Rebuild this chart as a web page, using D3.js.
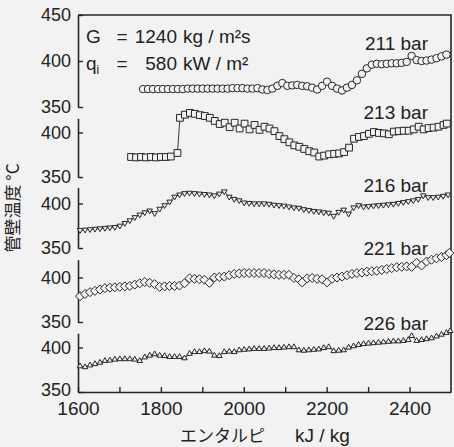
<!DOCTYPE html>
<html><head><meta charset="utf-8">
<script src="https://cdn.jsdelivr.net/npm/d3@7"></script>
<style>
html,body{margin:0;padding:0;background:#f2f2f2;}
svg{display:block;}
text{font-family:"Liberation Sans",Arial,sans-serif;fill:#222;}
.jp{font-family:"Noto Sans CJK JP",sans-serif;}
</style></head><body>
<svg id="chart" width="454" height="447"></svg>
<script>
// ---------- data ----------
const seriesLabels = ["211 bar","213 bar","216 bar","221 bar","226 bar"];
const xTickValues = [1600,1700,1800,1900,2000,2100,2200,2300,2400];
const xTickLabels = ["1600","","1800","","2000","","2200","","2400"];
const yTickValuesTop = [350,400,450];
const yTickValues = [350,400];
const axisTops = [450,416,418,420,416];

const s211 = [[1757,369.5],[1769,369.5],[1781,369.5],[1793,369.5],[1805,369.5],[1817,369.5],[1829,369.5],[1841,369.5],[1853,369.5],[1865,370],[1877,370],[1889,370],[1901,370],[1913,370],[1925,370],[1937,370],[1949,370],[1961,370],[1973,370.5],[1985,370.5],[1997,370.5],[2009,370],[2021,370],[2033,370.5],[2045,369],[2057,368.5],[2069,370],[2081,373],[2093,376],[2105,373],[2117,373.5],[2129,374],[2141,373],[2153,372.5],[2165,371],[2177,369],[2189,373],[2201,377.5],[2213,373],[2225,370],[2237,368],[2249,371],[2261,374],[2273,379],[2285,386],[2297,392],[2309,396],[2321,397],[2333,396.5],[2345,397],[2357,397.5],[2369,397.5],[2381,398],[2393,399],[2405,405.5],[2417,401],[2429,400],[2441,400.5],[2453,401.5],[2465,403],[2477,405],[2489,407]];

const s213 = [[1728,372.5],[1740,372],[1752,372.5],[1764,372],[1776,372.5],[1788,372],[1800,372.5],[1812,372.5],[1824,373],[1840,377],[1846,416.5],[1858,420],[1870,422],[1882,421],[1894,419.5],[1906,418.5],[1918,416.5],[1930,413],[1942,409.5],[1954,411],[1966,406],[1978,411],[1990,404.5],[2002,410],[2014,403.5],[2026,408.5],[2038,403],[2050,406.5],[2062,404.5],[2074,401.5],[2086,396],[2098,392.5],[2110,389],[2122,385.5],[2134,384],[2146,381.5],[2158,379],[2170,377.5],[2182,373],[2194,374],[2206,375.5],[2218,376],[2230,376.5],[2242,378],[2254,383],[2266,393],[2278,395],[2290,396],[2302,398.5],[2314,400.5],[2326,399.5],[2338,399],[2350,398],[2362,401],[2374,401.5],[2386,402],[2398,402],[2410,403.5],[2422,406.5],[2434,403.5],[2446,405],[2458,405.5],[2470,406.5],[2482,408.5],[2490,410]];

const s216 = [[1605,370],[1617,370.5],[1629,371],[1641,371.5],[1653,372],[1665,372.5],[1677,373],[1689,373.5],[1701,375],[1713,378],[1725,381],[1737,384.5],[1749,387.5],[1761,390],[1773,392],[1785,389],[1797,394],[1809,398],[1821,402],[1833,407.5],[1845,410],[1857,411.5],[1869,412],[1881,411.5],[1893,411],[1905,410.5],[1917,410],[1929,409],[1941,411],[1953,413.5],[1965,407.5],[1977,405],[1989,403.5],[2001,401],[2013,400.5],[2025,400],[2037,400],[2049,400],[2061,399.5],[2073,398.5],[2085,398],[2097,397.5],[2109,396.5],[2121,395.5],[2133,395],[2145,393.5],[2157,392.5],[2169,391.5],[2181,391],[2193,390],[2205,389.5],[2217,386],[2229,390.5],[2241,393],[2253,388.5],[2265,395.5],[2277,398],[2289,396.5],[2301,397],[2313,397.5],[2325,398],[2337,398.5],[2349,399],[2361,399.5],[2373,400.5],[2385,401.5],[2397,402.5],[2409,403.5],[2421,405],[2433,409],[2445,407],[2457,407],[2469,407.5],[2481,408.5],[2493,410]];

const s221 = [[1605,379],[1617,381.5],[1629,383.5],[1641,385],[1653,386.5],[1665,388],[1677,388.5],[1689,389],[1701,389.5],[1713,390],[1725,390.5],[1737,392],[1749,393.5],[1761,395],[1773,394],[1785,392.5],[1797,389.5],[1809,390],[1821,390.5],[1833,390.5],[1845,391],[1857,393.5],[1869,399],[1881,398.5],[1893,398],[1905,397.5],[1917,394],[1929,400],[1941,400.5],[1953,401],[1965,402.5],[1977,404],[1989,404.5],[2001,405],[2013,405],[2025,405],[2037,405],[2049,405],[2061,404],[2073,403.5],[2085,403],[2097,403],[2109,403],[2121,399.5],[2133,398],[2141,394.5],[2153,399],[2165,399.5],[2177,398.5],[2189,398],[2201,394.5],[2213,398.5],[2225,400],[2237,401],[2249,402.5],[2261,404],[2273,405],[2285,405.5],[2297,406.5],[2309,407],[2321,407.5],[2333,408.5],[2345,409.5],[2357,410.5],[2369,411.5],[2381,412],[2393,412.5],[2405,412],[2417,416.5],[2429,413.5],[2441,418],[2453,420],[2465,421.5],[2477,423],[2489,425],[2496,427.5]];

const s226 = [[1605,379],[1617,378],[1629,380],[1641,381.5],[1653,383],[1665,385],[1677,385.5],[1689,386.5],[1701,387],[1713,387],[1725,387],[1737,386.5],[1749,385],[1761,389],[1773,391],[1785,392.5],[1797,391],[1809,390.5],[1821,389.5],[1833,389.5],[1845,389.5],[1857,388],[1869,393],[1881,395],[1893,395],[1905,396],[1917,395.5],[1929,391],[1941,390.5],[1953,395],[1965,395.5],[1977,395],[1989,397],[2001,397.5],[2013,398],[2025,398.5],[2037,398.5],[2049,398.5],[2061,399],[2073,399.5],[2085,399.5],[2097,400],[2109,400.5],[2121,400.5],[2133,397],[2145,396.5],[2157,397],[2169,397.5],[2181,398],[2193,399.5],[2205,400.5],[2217,396],[2229,396.5],[2241,397],[2253,400],[2265,401.5],[2277,403],[2289,404],[2301,404.5],[2313,405],[2325,405.5],[2337,406],[2349,406.5],[2361,407],[2373,407],[2385,407.5],[2397,408.5],[2405,413],[2417,407.5],[2429,408.5],[2441,409.5],[2453,410.5],[2465,412.5],[2477,414.5],[2489,416.5],[2498,418.5]];

const allSeries = [s211, s213, s216, s221, s226];

// ---------- layout ----------
const svg = d3.select("#chart");
const ink = "#262626";
const bg = "#f2f2f2";
const x = d3.scaleLinear().domain([1600, 2500]).range([78, 451]);
const seg350 = [107, 177, 248, 322, 392];
const pxPerUnit = 0.89;
const yScales = seg350.map((p, i) => {
  if (i === 0) return d3.scaleLinear().domain([350, 450]).range([107, 15]);
  return d3.scaleLinear().domain([350, axisTops[i]]).range([p, p - (axisTops[i] - 350) * pxPerUnit]);
});

// frame (top, right)
svg.append("path")
  .attr("d", `M${x(1600)},${yScales[0](450)}H${x(2500)}V${yScales[4](350)}`)
  .attr("fill", "none").attr("stroke", ink).attr("stroke-width", 1.6);

// left axis segments
yScales.forEach((ys, i) => {
  const g = svg.append("g").attr("transform", `translate(${x(1600)},0)`)
    .call(d3.axisLeft(ys).tickValues(i === 0 ? yTickValuesTop : yTickValues)
      .tickSizeInner(-5).tickSizeOuter(0).tickPadding(7).tickFormat(d3.format("d")));
  g.select(".domain").attr("stroke", ink).attr("stroke-width", 1.6);
  g.selectAll(".tick line").attr("stroke", ink).attr("stroke-width", 1.4);
  g.selectAll(".tick text").attr("font-size", 18).attr("fill", ink)
    .style("font-family", '"Liberation Sans",Arial,sans-serif');
  if (i === 4) g.selectAll(".tick text").filter(d => d === 350).attr("dy", "0.2em");
});

// bottom axis
const gx = svg.append("g").attr("transform", `translate(0,${yScales[4](350)})`)
  .call(d3.axisBottom(x).tickValues(xTickValues).tickSizeInner(-5).tickSizeOuter(0).tickPadding(10)
    .tickFormat((d, i) => xTickLabels[i]));
gx.select(".domain").attr("stroke", ink).attr("stroke-width", 1.6);
gx.selectAll(".tick line").attr("stroke", ink).attr("stroke-width", 1.4);
gx.selectAll(".tick text").attr("font-size", 19).attr("fill", ink)
  .style("font-family", '"Liberation Sans",Arial,sans-serif');

// series
const triDown = {draw(ctx, size) { const s = Math.sqrt(size / (Math.sqrt(3) * 0.75)); const h = s * Math.sqrt(3) / 2;
  ctx.moveTo(-s / 2, -h / 3); ctx.lineTo(s / 2, -h / 3); ctx.lineTo(0, 2 * h / 3); ctx.closePath(); }};
const triUp = {draw(ctx, size) { const s = Math.sqrt(size / (Math.sqrt(3) * 0.75)); const h = s * Math.sqrt(3) / 2;
  ctx.moveTo(-s / 2, h / 3); ctx.lineTo(s / 2, h / 3); ctx.lineTo(0, -2 * h / 3); ctx.closePath(); }};
const symbolTypes = [d3.symbolCircle, d3.symbolSquare, triDown, d3.symbolDiamond2, triUp];
const symbolSizes = [44, 46, 40, 52, 40];

allSeries.forEach((data, i) => {
  const ys = yScales[i];
  const line = d3.line().x(d => x(d[0])).y(d => ys(d[1]));
  svg.append("path").datum(data).attr("d", line)
    .attr("fill", "none").attr("stroke", ink).attr("stroke-width", 0.9);
  svg.append("g").selectAll("path").data(data).join("path")
    .attr("transform", d => `translate(${x(d[0])},${ys(d[1])})`)
    .attr("d", d3.symbol(symbolTypes[i], symbolSizes[i]))
    .attr("fill", bg).attr("stroke", ink).attr("stroke-width", 1);
});

// series labels
const labelBase = [50, 119, 192, 255, 330];
seriesLabels.forEach((t, i) => {
  svg.append("text").attr("x", 428).attr("y", labelBase[i]).attr("text-anchor", "end")
    .attr("font-size", 19).text(t);
});

// condition text
const cond = svg.append("g").attr("font-size", 19);
cond.append("text").attr("x", 86).attr("y", 43).text("G");
cond.append("text").attr("x", 122).attr("y", 43).attr("text-anchor", "middle").text("=");
cond.append("text").attr("x", 177).attr("y", 43).attr("text-anchor", "end").text("1240");
cond.append("text").attr("x", 183).attr("y", 43).text("kg / m²s");
const q = cond.append("text").attr("x", 86).attr("y", 70);
q.append("tspan").text("q");
q.append("tspan").attr("font-size", 12).attr("dy", 4).text("i");
cond.append("text").attr("x", 122).attr("y", 70).attr("text-anchor", "middle").text("=");
cond.append("text").attr("x", 177).attr("y", 70).attr("text-anchor", "end").text("580");
cond.append("text").attr("x", 183).attr("y", 70).text("kW / m²");

// axis titles
svg.append("text").attr("class", "jp").attr("transform", "translate(19,208) rotate(-90)")
  .attr("text-anchor", "middle").attr("font-size", 17).text("管壁温度  °C");
svg.append("text").attr("class", "jp").attr("x", 180).attr("y", 442).attr("font-size", 17).text("エンタルピ");
svg.append("text").attr("x", 295).attr("y", 442).attr("font-size", 19).text("kJ / kg");
</script>
</body></html>
